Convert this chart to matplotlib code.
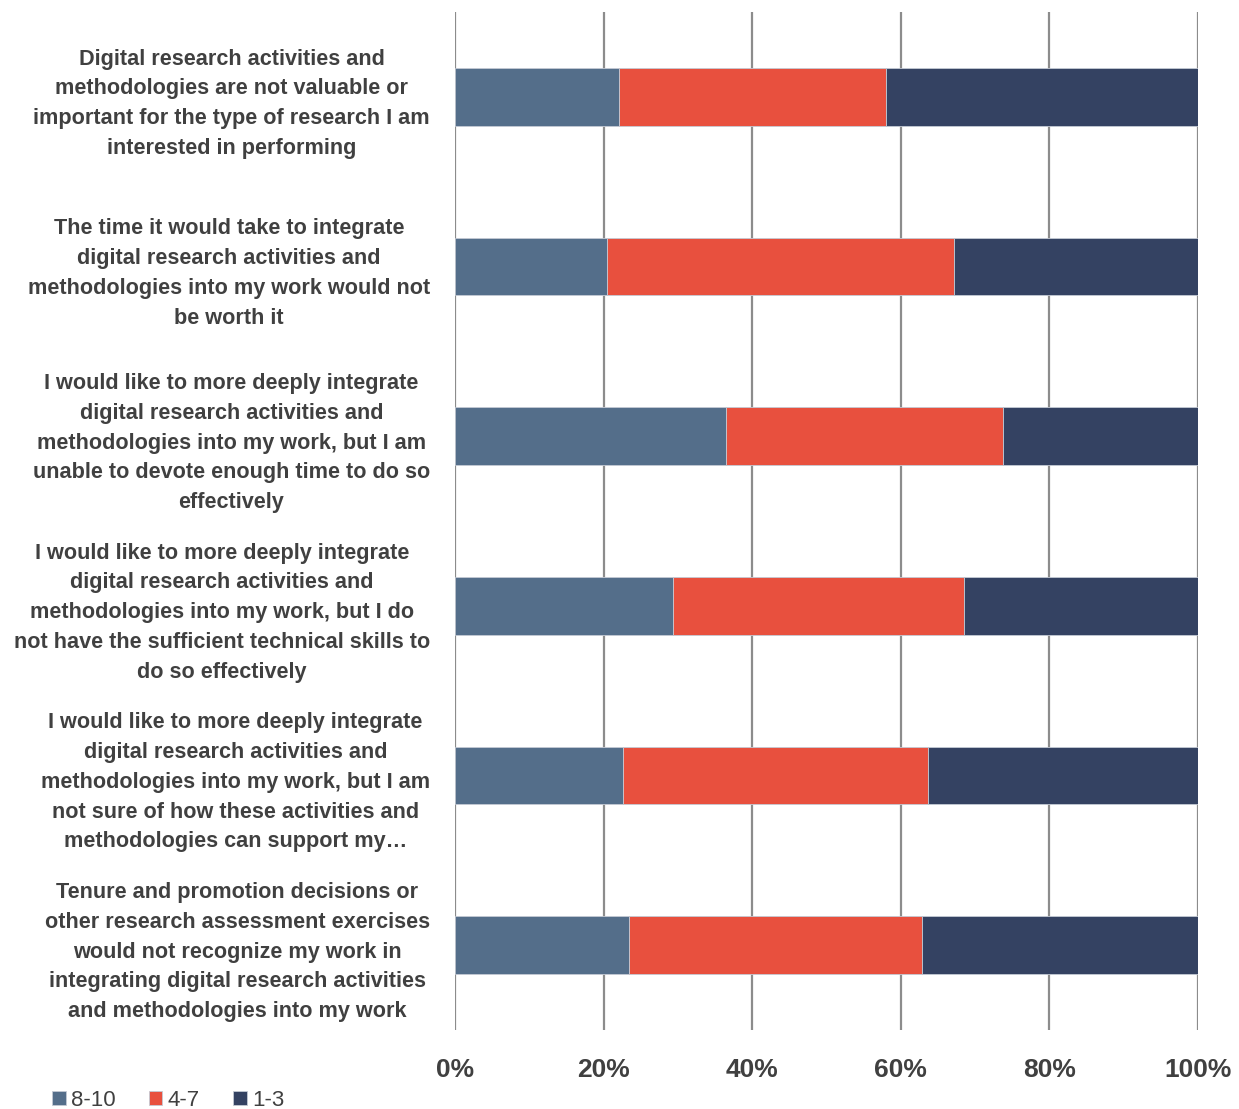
import matplotlib.pyplot as plt
import numpy as np

labels = [
    "Digital research activities and\nmethodologies are not valuable or\nimportant for the type of research I am\ninterested in performing",
    "The time it would take to integrate\ndigital research activities and\nmethodologies into my work would not\nbe worth it",
    "I would like to more deeply integrate\ndigital research activities and\nmethodologies into my work, but I am\nunable to devote enough time to do so\neffectively",
    "I would like to more deeply integrate\ndigital research activities and\nmethodologies into my work, but I do\nnot have the sufficient technical skills to\ndo so effectively",
    "I would like to more deeply integrate\ndigital research activities and\nmethodologies into my work, but I am\nnot sure of how these activities and\nmethodologies can support my\u2026",
    "Tenure and promotion decisions or\nother research assessment exercises\nwould not recognize my work in\nintegrating digital research activities\nand methodologies into my work",
]
high = [22.1, 20.4, 36.5, 29.3, 22.6, 23.4]    # 8-10
mid = [35.9, 46.8, 37.3, 39.2, 41.1, 39.5]     # 4-7
low = [42.0, 32.8, 26.2, 31.5, 36.3, 37.1]     # 1-3
series_names = ["8-10", "4-7", "1-3"]
colors = ["#546e8a", "#e8503e", "#344262"]

plt.rcParams["font.family"] = ["Liberation Sans", "DejaVu Sans"]
txt = "#404040"

fig = plt.figure(figsize=(12.39, 11.09), dpi=100)
ax = fig.add_axes([455 / 1239, 1 - 1030 / 1109, 743 / 1239, 1018 / 1109])

y = np.arange(len(labels))
left = np.zeros(len(labels))
for vals, name, c in zip([high, mid, low], series_names, colors):
    ax.barh(y, vals, left=left, height=0.34, color=c, label=name,
            edgecolor="#c4cad4", linewidth=0.6, zorder=3)
    left = left + np.array(vals)

ax.set_xlim(0, 100)
ax.set_ylim(len(labels) - 0.5, -0.5)
ax.set_xticks(np.arange(0, 101, 20))
ax.set_xticklabels([f"{v}%" for v in range(0, 101, 20)], fontsize=19,
                   fontweight="bold", color=txt)
ax.set_yticks(y)
ax.set_yticklabels(labels, fontsize=15.6, fontweight="bold", color=txt,
                   ha="right", multialignment="center", linespacing=1.55)
ax.tick_params(axis="both", length=0)
ax.tick_params(axis="x", pad=20)
ax.tick_params(axis="y", pad=18)
ax.grid(axis="x", color="#8c8c8c", linewidth=1.6, zorder=0)
for s in ax.spines.values():
    s.set_visible(False)

fig.legend(loc="lower left", bbox_to_anchor=(0.026, -0.02), ncol=3,
           frameon=False, fontsize=16, handlelength=0.6, handleheight=0.6,
           handletextpad=0.25, columnspacing=1.5, labelcolor=txt)

fig.savefig("out.png", dpi=100)
